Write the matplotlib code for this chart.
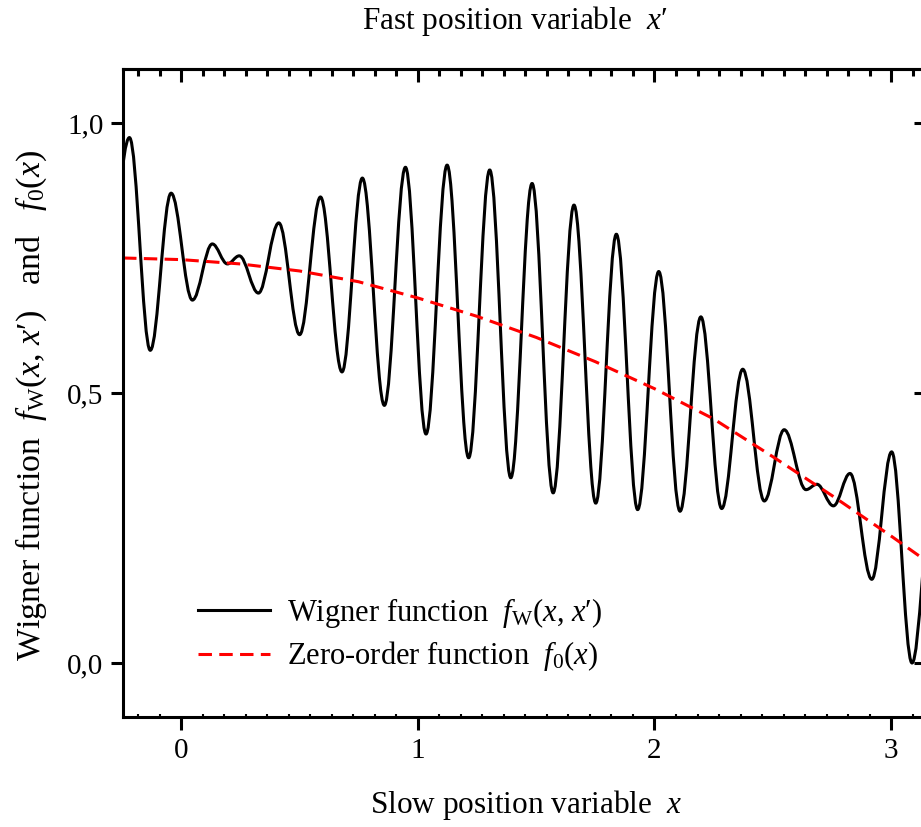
import matplotlib
matplotlib.use("Agg")
import matplotlib.pyplot as plt
from matplotlib.path import Path
from matplotlib.patches import PathPatch
from matplotlib.lines import Line2D
from matplotlib.ticker import AutoMinorLocator, FuncFormatter

plt.rcParams['font.family'] = ['Liberation Serif', 'DejaVu Serif']
plt.rcParams['mathtext.fontset'] = 'custom'
plt.rcParams['mathtext.rm'] = 'Liberation Serif'
plt.rcParams['mathtext.it'] = 'Liberation Serif:italic'

# Wigner function: turning points (peaks / troughs)
wigner_x = [-0.306, -0.218, -0.130, -0.042, 0.048, 0.132, 0.196, 0.246, 0.327,
            0.413, 0.501, 0.589, 0.680, 0.766, 0.859, 0.948, 1.035, 1.124,
            1.215, 1.304, 1.393, 1.483, 1.572, 1.660, 1.752, 1.839, 1.929,
            2.018, 2.108, 2.196, 2.284, 2.373, 2.464, 2.548, 2.640, 2.686,
            2.756, 2.826, 2.918, 3.002, 3.088, 3.173]
wigner_y = [0.750, 0.973, 0.579, 0.870, 0.672, 0.776, 0.739, 0.754, 0.685,
            0.815, 0.608, 0.863, 0.539, 0.898, 0.477, 0.918, 0.424, 0.922,
            0.380, 0.913, 0.343, 0.888, 0.315, 0.848, 0.296, 0.794, 0.284,
            0.725, 0.281, 0.641, 0.286, 0.544, 0.300, 0.432, 0.321, 0.331,
            0.291, 0.351, 0.155, 0.391, 0.000, 0.300]

# zero-order function
zero_x = [-0.245, 0.0, 0.25, 0.5, 0.75, 1.0, 1.25, 1.5, 1.75, 2.0, 2.25, 2.5,
          2.75, 3.0, 3.145]
zero_y = [0.750, 0.747, 0.739, 0.726, 0.706, 0.676, 0.642, 0.603, 0.558, 0.508,
          0.452, 0.382, 0.310, 0.235, 0.190]

x_ticks = [0, 1, 2, 3]
y_ticks = [0.0, 0.5, 1.0]

fs_tick = 21
fs_lab = 22.5
lw = 2.2
dash = (0, (4.4, 2.4))

fig = plt.figure(figsize=(9.21, 8.27), dpi=100)
ax = fig.add_axes([0.1336, 0.1330, 0.8713, 0.7836])
ax.set_xlim(-0.245, 3.145)
ax.set_ylim(-0.1, 1.1)

# smooth curve through the turning points (horizontal tangent at each one)
k = 0.3642
verts = [(wigner_x[0], wigner_y[0])]
codes = [Path.MOVETO]
for i in range(1, len(wigner_x)):
    dx = wigner_x[i] - wigner_x[i - 1]
    verts += [(wigner_x[i - 1] + k * dx, wigner_y[i - 1]),
              (wigner_x[i] - k * dx, wigner_y[i]),
              (wigner_x[i], wigner_y[i])]
    codes += [Path.CURVE4] * 3
ax.add_patch(PathPatch(Path(verts, codes), fill=False, edgecolor='black',
                       lw=lw, joinstyle='round', capstyle='round'))

ax.plot(zero_x, zero_y, color='red', lw=lw, linestyle=dash)

for s in ax.spines.values():
    s.set_linewidth(2.2)

comma = FuncFormatter(lambda v, p: f"{v:.1f}".replace('.', ','))
ax.set_xticks(x_ticks)
ax.set_yticks(y_ticks)
ax.yaxis.set_major_formatter(comma)
ax.xaxis.set_minor_locator(AutoMinorLocator(11))
ax.tick_params(axis='both', which='major', direction='out', length=9,
               width=2.2, labelsize=fs_tick)
ax.tick_params(axis='y', pad=5)
ax.tick_params(axis='x', pad=6)
ax.tick_params(axis='x', which='minor', direction='in', length=2, width=1.5)

top = ax.secondary_xaxis('top')
top.set_xticks(x_ticks)
top.xaxis.set_minor_locator(AutoMinorLocator(11))
top.tick_params(which='major', direction='in', length=9, width=2.2,
                labeltop=False)
top.tick_params(which='minor', direction='in', length=5, width=2.2)
top.spines['top'].set_linewidth(2.2)

right = ax.secondary_yaxis('right')
right.set_yticks(y_ticks)
right.tick_params(direction='in', length=9, width=2.2, labelright=False)

fig.text(0.571, 0.027, r"Slow position variable  $x$", fontsize=fs_lab,
         ha='center', va='center')
fig.text(0.559, 0.975, "Fast position variable  $x$\u2032", fontsize=fs_lab,
         ha='center', va='center')
fig.text(0.034, 0.51,
         "Wigner function  $f_{\\mathrm{W}}$($x$, $x$\u2032)   and   $f_0$($x$)",
         fontsize=24.5, rotation=90, ha='center', va='center')

handles = [Line2D([], [], color='black', lw=lw),
           Line2D([], [], color='red', lw=lw, linestyle=dash)]
ax.legend(handles, ["Wigner function  $f_{\\mathrm{W}}$($x$, $x$\u2032)",
                    "Zero-order function  $f_0$($x$)"],
          loc='center left', bbox_to_anchor=(0.0935, 0.127), frameon=False,
          fontsize=22, handlelength=2.35, handletextpad=0.55,
          labelspacing=0.3, borderpad=0, borderaxespad=0)

fig.savefig("out.png", dpi=100)
